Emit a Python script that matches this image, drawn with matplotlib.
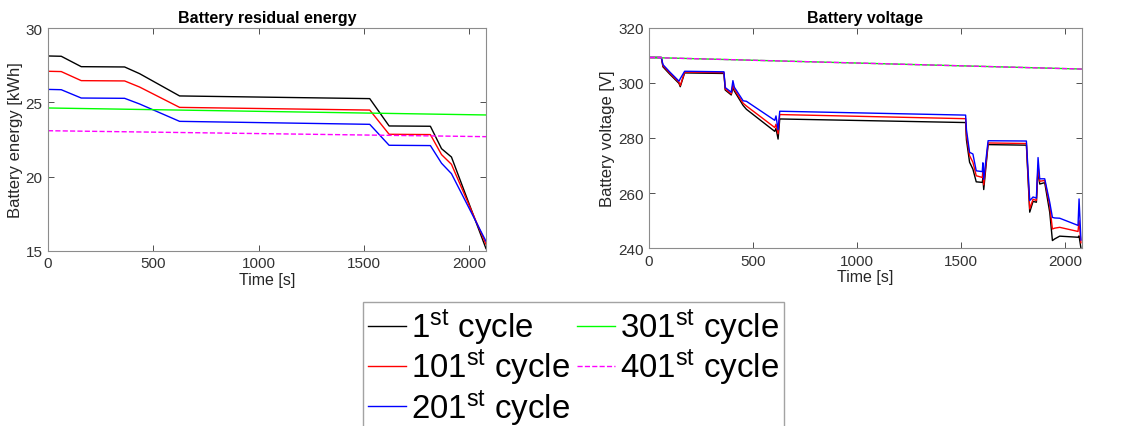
import matplotlib
matplotlib.use('Agg')
import matplotlib.pyplot as plt

plt.rcParams['font.family'] = ['Liberation Sans', 'DejaVu Sans']
plt.rcParams['mathtext.fontset'] = 'custom'
plt.rcParams['mathtext.rm'] = 'Liberation Sans'
plt.rcParams['mathtext.it'] = 'Liberation Sans:italic'
plt.rcParams['mathtext.bf'] = 'Liberation Sans:bold'

# ---- data ----
labels = [r'1$^{\mathrm{st}}$ cycle', r'101$^{\mathrm{st}}$ cycle', r'201$^{\mathrm{st}}$ cycle',
          r'301$^{\mathrm{st}}$ cycle', r'401$^{\mathrm{st}}$ cycle']

# residual energy [kWh]
t_energy = [0, 63, 158, 364, 435, 625, 1528, 1620, 1816, 1869, 1916, 2080]
e_1 = [28.12, 28.10, 27.40, 27.38, 26.93, 25.43, 25.25, 23.41, 23.39, 21.88, 21.32, 15.16]
e_101 = [27.09, 27.07, 26.46, 26.44, 26.03, 24.66, 24.48, 22.85, 22.83, 21.48, 20.83, 15.45]
e_201 = [25.87, 25.85, 25.29, 25.27, 24.89, 23.72, 23.52, 22.11, 22.09, 20.90, 20.20, 15.65]
t_energy_flat = [0, 2080]
e_301 = [24.62, 24.15]
e_401 = [23.09, 22.69]

# voltage [V]
t_volt = [0, 59, 67, 99, 144, 150, 171, 360, 366, 395, 403, 410, 452, 468, 604, 610, 620, 628,
          1521, 1525, 1540, 1556, 1572, 1601, 1604, 1608, 1629, 1813, 1829, 1845, 1861, 1869,
          1877, 1901, 1925, 1938, 1949, 1973, 2061, 2066, 2075]
v_1 = [309.2, 309.2, 305.8, 303.2, 299.8, 298.6, 303.6, 303.4, 297.4, 295.6, 298.2, 297.0,
       291.8, 290.4, 282.4, 283.5, 279.6, 286.9, 285.6, 279.3, 271.2, 268.7, 264.1, 263.9,
       265.5, 261.3, 277.6, 277.4, 253.1, 257.0, 256.7, 268.7, 263.3, 263.8, 253.1, 242.8,
       243.4, 244.4, 244.0, 244.5, 240.1]
v_101 = [309.2, 309.2, 306.2, 303.6, 300.2, 299.0, 303.9, 303.7, 297.8, 296.0, 299.3, 297.6,
         292.6, 291.6, 283.8, 285.0, 281.5, 288.5, 287.0, 281.0, 273.6, 271.2, 266.3, 265.7,
         268.0, 263.0, 278.2, 278.0, 254.3, 257.8, 257.3, 270.0, 264.3, 264.6, 255.5, 247.0,
         247.3, 247.6, 246.1, 250.0, 242.0]
v_201 = [309.2, 309.2, 306.6, 304.0, 300.6, 301.5, 304.2, 304.0, 298.3, 296.6, 300.8, 298.4,
         293.5, 293.3, 286.4, 288.0, 283.0, 289.7, 288.3, 283.0, 274.8, 274.2, 268.1, 267.8,
         271.0, 265.0, 279.0, 278.9, 257.3, 258.6, 258.2, 272.9, 265.2, 265.2, 256.7, 251.2,
         251.0, 250.9, 248.3, 257.9, 243.0]
t_volt_flat = [0, 0.5, 2080]
v_301 = [298.8, 309.2, 305.0]
v_401 = [298.8, 309.2, 305.0]

colors = ['black', 'red', 'blue', '#00ff00', 'magenta']
styles = ['-', '-', '-', '-', '--']

fig = plt.figure(figsize=(11.26, 4.27), dpi=100)
ax1 = fig.add_axes([0.0426, 0.410, 0.389, 0.522])
ax2 = fig.add_axes([0.5764, 0.4162, 0.3845, 0.5166])

energy = [(t_energy, e_1), (t_energy, e_101), (t_energy, e_201),
          (t_energy_flat, e_301), (t_energy_flat, e_401)]
volt = [(t_volt, v_1), (t_volt, v_101), (t_volt, v_201),
        (t_volt_flat, v_301), (t_volt_flat, v_401)]

handles = []
for (t, y), c, ls, lab in zip(energy, colors, styles, labels):
    h, = ax1.plot(t, y, color=c, linestyle=ls, linewidth=1.0, label=lab)
    handles.append(h)
for (t, y), c, ls in zip(volt, colors, styles):
    ax2.plot(t, y, color=c, linestyle=ls, linewidth=1.0)

for ax in (ax1, ax2):
    ax.set_xlim(0, 2080)
    ax.set_xticks([0, 500, 1000, 1500, 2000])
    ax.tick_params(direction='in', top=True, right=True, labelsize=11,
                   colors='#333333', length=4, width=0.6, pad=4)
    for s in ax.spines.values():
        s.set_color('#8c8c8c')
        s.set_linewidth(0.8)
    ax.set_xlabel('Time [s]', fontsize=11.5, color='#262626', labelpad=1)

ax1.set_ylim(15, 30)
ax1.set_yticks([15, 20, 25, 30])
ax1.set_ylabel('Battery energy [kWh]', fontsize=12, color='#262626', labelpad=2)
ax1.set_title('Battery residual energy', fontsize=11.5, fontweight='bold', pad=4)

ax2.set_ylim(240, 320)
ax2.set_yticks([240, 260, 280, 300, 320])
ax2.set_ylabel('Battery voltage [V]', fontsize=12, color='#262626', labelpad=2)
ax2.set_title('Battery voltage', fontsize=11.5, fontweight='bold', pad=4)

leg = fig.legend(handles=handles, loc='upper left', bbox_to_anchor=(0.3224, 0.2904),
                 ncol=2, fontsize=23.8, frameon=True, fancybox=False,
                 handlelength=1.15, handletextpad=0.15, columnspacing=0.2,
                 labelspacing=0.0, borderpad=0.15, borderaxespad=0)
leg.get_frame().set_edgecolor('#8c8c8c')
leg.get_frame().set_linewidth(1.0)

fig.savefig('out.png', dpi=100)
